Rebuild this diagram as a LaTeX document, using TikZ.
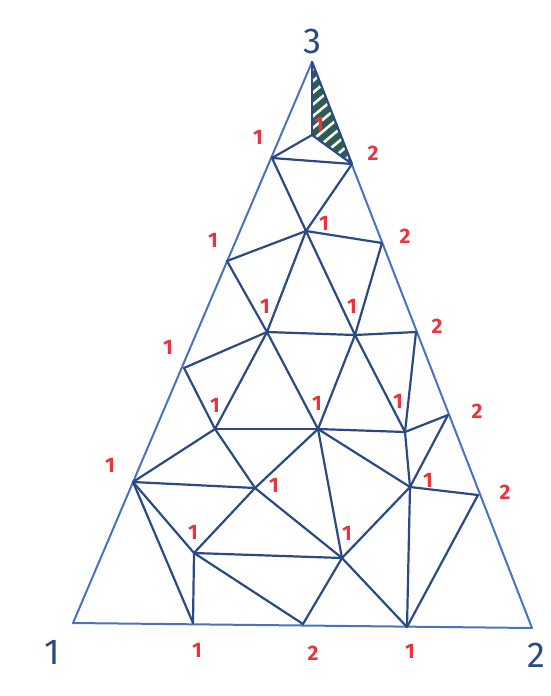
\documentclass[tikz,border=0pt]{standalone}
\usepackage{fontspec}
\setmainfont{Fira Sans}
\usepackage{tikz}
\usetikzlibrary{patterns.meta}
\definecolor{rimblue}{HTML}{4A72C0}
\definecolor{edgeink}{HTML}{2C4A82}
\definecolor{labred}{HTML}{E8343E}
\definecolor{hatchgreen}{HTML}{2F5C50}
\begin{document}
\begin{tikzpicture}[x=1pt,y=-1pt,
  rim/.style={draw=rimblue,line width=2pt,line join=round},
  seg/.style={draw=edgeink,line width=2.2pt,line cap=round},
  lab/.style={text=labred,font=\fontsize{21}{21}\selectfont\bfseries,inner sep=0pt},
  corner/.style={text=edgeink,font=\fontsize{36}{36}\selectfont,inner sep=0pt}]
\useasboundingbox (0,0) rectangle (550,696);
% outer corners
\coordinate (A) at (73,623);
\coordinate (B) at (532,628);
\coordinate (C) at (312,62);
% points on the sides
\coordinate (b1) at (193,623);\coordinate (b2) at (303,624);\coordinate (b3) at (407,627);
\coordinate (L1) at (133,482);\coordinate (L2) at (184,368);\coordinate (L3) at (227,261);\coordinate (L4) at (272,158);
\coordinate (R1) at (352,164);\coordinate (R2) at (382,243);\coordinate (R3) at (416,332);\coordinate (R4) at (448,415);\coordinate (R5) at (478,495);
% inner points
\coordinate (T) at (312,135);
\coordinate (M1) at (306,231);\coordinate (M2) at (267,332);\coordinate (M3) at (355,335);
\coordinate (M4) at (215,429);\coordinate (M5) at (318,429);\coordinate (M6) at (405,432);
\coordinate (M7) at (255,488);\coordinate (M8) at (410,487);
\coordinate (M9) at (194,553);\coordinate (M10) at (342,558);
\draw[rim] (A)--(B)--(C)--cycle;
% the fully labelled cell
\fill[hatchgreen] (C)--(T)--(R1)--cycle;
\fill[pattern={Lines[angle=40,distance=9pt,line width=2.6pt]},pattern color=white] (C)--(T)--(R1)--cycle;
\draw[seg] (C)--(T);\draw[seg] (C)--(R1);\draw[seg] (T)--(R1);\draw[seg] (L4)--(T);\draw[seg] (L4)--(R1);
\draw[seg] (L4)--(M1);\draw[seg] (R1)--(M1);\draw[seg] (M1)--(R2);\draw[seg] (L3)--(M1);
\draw[seg] (L3)--(M2);\draw[seg] (M1)--(M2);\draw[seg] (M1)--(M3);\draw[seg] (R2)--(M3);
\draw[seg] (M2)--(M3);\draw[seg] (M3)--(R3);\draw[seg] (L2)--(M2);
\draw[seg] (L2)--(M4);\draw[seg] (M2)--(M4);\draw[seg] (M2)--(M5);\draw[seg] (M3)--(M5);
\draw[seg] (M3)--(M6);\draw[seg] (R3)--(M6);\draw[seg] (M4)--(M5);\draw[seg] (M5)--(M6);\draw[seg] (M6)--(R4);
\draw[seg] (L1)--(M4);\draw[seg] (L1)--(M7);\draw[seg] (M4)--(M7);\draw[seg] (M5)--(M7);
\draw[seg] (M5)--(M10);\draw[seg] (M5)--(M8);\draw[seg] (M6)--(M8);\draw[seg] (R4)--(M8);\draw[seg] (M8)--(R5);
\draw[seg] (M7)--(M9);\draw[seg] (M7)--(M10);\draw[seg] (M8)--(M10);\draw[seg] (L1)--(M9);
\draw[seg] (L1)--(b1);\draw[seg] (M9)--(b1);\draw[seg] (M9)--(M10);\draw[seg] (M9)--(b2);
\draw[seg] (M10)--(b2);\draw[seg] (M10)--(b3);\draw[seg] (M8)--(b3);\draw[seg] (R5)--(b3);
% labels
\node[corner] (nA) at (52,652) {1};
\node[corner] (nB) at (536,655) {2};
\node[corner] (nC) at (312,41) {3};
\node[lab] (nT) at (319,124) {1};
\node[lab] (nL4) at (258,137) {1};
\node[lab] (nR1) at (373,153) {2};
\node[lab] (nM1) at (324,223) {1};
\node[lab] (nL3) at (213,240) {1};
\node[lab] (nR2) at (405,236) {2};
\node[lab] (nM2) at (265,306) {1};
\node[lab] (nM3) at (352,306) {1};
\node[lab] (nR3) at (437,326) {2};
\node[lab] (nL2) at (168,347) {1};
\node[lab] (nM4) at (215,405) {1};
\node[lab] (nM5) at (317,403) {1};
\node[lab] (nM6) at (398,401) {1};
\node[lab] (nR4) at (477,411) {2};
\node[lab] (nL1) at (110,465) {1};
\node[lab] (nM7) at (274,485) {1};
\node[lab] (nM8) at (428,480) {1};
\node[lab] (nR5) at (505,492) {2};
\node[lab] (nM9) at (193,532) {1};
\node[lab] (nM10) at (347,533) {1};
\node[lab] (nb1) at (197,650) {1};
\node[lab] (nb2) at (313,653) {2};
\node[lab] (nb3) at (410,651) {1};
\end{tikzpicture}
\end{document}
